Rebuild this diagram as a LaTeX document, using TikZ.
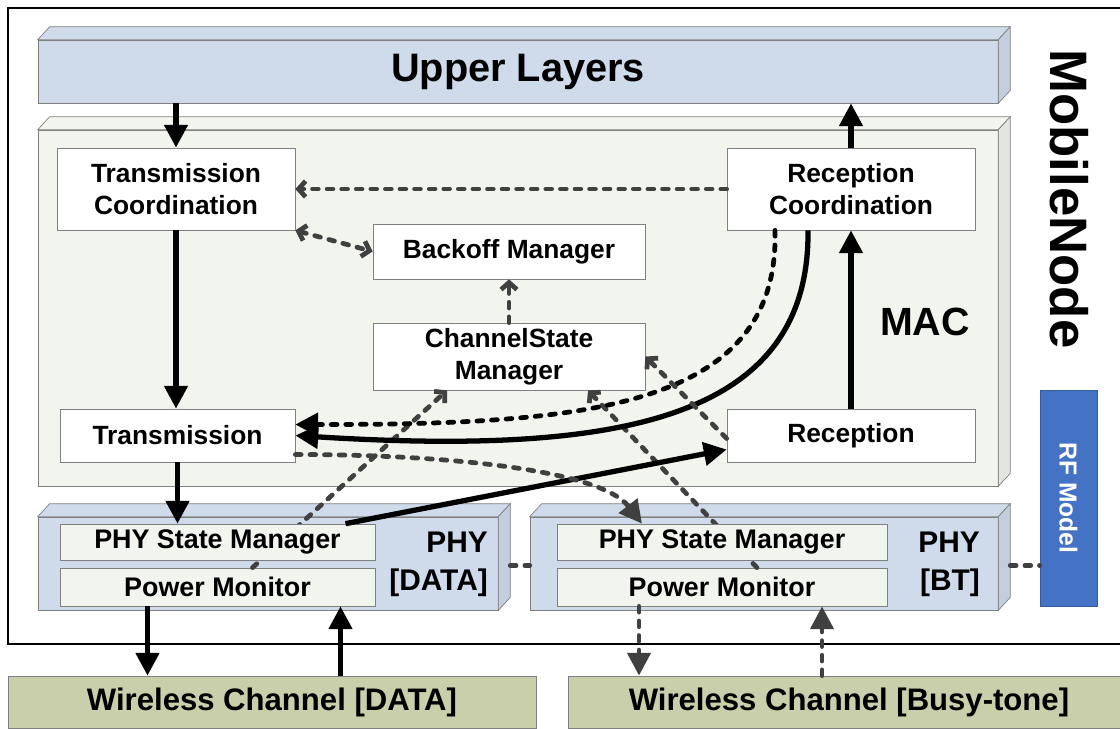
\documentclass[tikz,border=0pt]{standalone}
\usepackage{fontspec}
\setmainfont{Liberation Sans}
\usetikzlibrary{arrows.meta,calc,positioning}
\definecolor{layerblue}{HTML}{CFDAEB}
\definecolor{macgray}{HTML}{F2F4EE}
\definecolor{edgegray}{HTML}{808080}
\definecolor{linkgray}{HTML}{404040}
\definecolor{chanolive}{HTML}{C9CFAA}
\definecolor{rfblue}{HTML}{4472C4}

\begin{document}
\begin{tikzpicture}
[x=0.02cm,y=-0.02cm,
  layerDecorate/.style={draw=edgegray,fill=layerblue,inner sep=0pt},
  moduleDecorate/.style={draw=edgegray,fill=white,inner sep=0pt,align=center,
    font=\fontsize{15}{18}\selectfont\bfseries},
  subDecorate/.style={draw=edgegray,fill=macgray,inner sep=0pt,
    font=\fontsize{15.3}{18}\selectfont\bfseries},
  chanDecorate/.style={draw=edgegray,fill=chanolive,inner sep=0pt,
    font=\fontsize{17.7}{21}\selectfont\bfseries},
  solidArrow/.style={-{Triangle[length=13pt,width=13pt]},line width=3pt},
  dashLink/.style={line width=2.7pt,linkgray,line cap=round,dash pattern=on 3.3pt off 5pt},
  dashArrow/.style={dashLink,-{Straight Barb[length=4pt,width=9pt]}},
  dashBoth/.style={dashLink,{Straight Barb[length=4pt,width=9pt]}-{Straight Barb[length=4pt,width=9pt]}},
  dashTriArrow/.style={dashLink,-{Triangle[length=13pt,width=13pt]}}]
\useasboundingbox (0,0) rectangle (1120,728);
\clip (0,0) rectangle (1120,728);
%% node frame
\draw[line width=1.2pt] (8,8) rectangle (1135,644);
%% layers
\node (upper) [layerDecorate,minimum width=19.2cm,minimum height=1.26cm,
  font=\fontsize{22.6}{26}\selectfont\bfseries] at (518,71.5) {Upper Layers};
\node (mac) [layerDecorate,fill=macgray,minimum width=19.2cm,minimum height=7.12cm] at (518,308) {};
\node (phydata) [layerDecorate,minimum width=9.2cm,minimum height=1.86cm] at (268,563.5) {};
\node (phybt) [layerDecorate,minimum width=9.36cm,minimum height=1.86cm] at (764,563.5) {};
\foreach \layer/\colr in {upper/layerblue, mac/macgray, phydata/layerblue, phybt/layerblue}
{
  \filldraw[draw=edgegray,fill=\colr] (\layer.north west) -- ++(12,-13)
    -- ($(\layer.north east)+(12,-13)$) -- (\layer.north east) -- cycle;
  \filldraw[draw=edgegray,fill=\colr!94!black] (\layer.north east) -- ++(12,-13)
    -- ($(\layer.south east)+(12,-13)$) -- (\layer.south east) -- cycle;
}
%% channels
\node (wdata) [chanDecorate,minimum width=10.56cm,minimum height=1.04cm] at (272,702) {Wireless Channel [DATA]};
\node (wbt) [chanDecorate,minimum width=11.24cm,minimum height=1.04cm] at (849,702) {Wireless Channel [Busy-tone]};
%% MAC modules
\foreach \nodename/\x/\y/\w/\h/\txt in {
  tcoord/176/189/238/82/{Transmission\\Coordination},
  rcoord/851/189/248/82/{Reception\\Coordination},
  backoff/509/251.5/272/55/{Backoff Manager},
  chstate/509/356.5/272/67/{ChannelState\\Manager},
  trans/177.5/435.5/235/53/{Transmission},
  recep/851/435.5/248/53/{Reception}}
{
  \node (\nodename) [moduleDecorate,minimum width=\w*0.02cm,minimum height=\h*0.02cm] at (\x,\y) {\txt};
}
%% power monitors and their links behind the state managers
\foreach \nodename/\x/\w in {pmdata/217.5/315, pmbt/722/330}
{
  \node (\nodename) [subDecorate,minimum width=\w*0.02cm,minimum height=0.76cm] at (\x,587) {Power Monitor};
}
\draw[dashArrow] ($(pmdata.north)+(35,0)$) -- ($(chstate.south)+(-62,0)$);
\draw[dashArrow] ($(pmbt.north)+(35,0)$) -- ($(chstate.south)+(79,0)$);
\foreach \nodename/\x/\w in {psmdata/217.5/315, psmbt/722/330}
{
  \node (\nodename) [subDecorate,minimum width=\w*0.02cm,minimum height=0.72cm] at (\x,542) {PHY State Manager};
}
%% labels
\node [font=\fontsize{22.4}{26}\selectfont\bfseries] at (925,322) {MAC};
\node [font=\fontsize{17}{21.6}\selectfont\bfseries,align=right,anchor=east] at (494,564) {PHY\\{[DATA]}};
\node [font=\fontsize{17}{21.6}\selectfont\bfseries,align=right,anchor=east] at (986,564) {PHY\\{[BT]}};
\node [rotate=-90,font=\fontsize{30}{34}\selectfont\bfseries] at (1069,199) {MobileNode};
\node (rfmodel) [rotate=-90,draw=rfblue!80!black,fill=rfblue,text=white,inner sep=0pt,
  minimum width=4.32cm,minimum height=1.14cm,font=\fontsize{14}{16}\selectfont\bfseries] at (1068.5,498) {RF Model};
%% solid links
\draw[solidArrow] (tcoord.north |- upper.south) -- (tcoord.north);
\draw[solidArrow] (rcoord.north) -- (rcoord.north |- upper.south);
\draw[solidArrow] (tcoord.south) -- (tcoord.south |- trans.north);
\draw[solidArrow] (recep.north) -- (rcoord.south);
\draw[solidArrow] (trans.south) -- (trans.south |- psmdata.north);
\draw[solidArrow] ($(pmdata.south)+(-70,0)$) coordinate (pmout) -- (pmout |- wdata.north);
\coordinate (pmin) at ($(pmdata.south)+(123,0)$);
\draw[solidArrow] (pmin |- wdata.north) -- (pmin);
\draw[solidArrow] ($(psmdata.north)+(128,0)$) -- ($(recep.west)+(0,14)$);
\draw[solidArrow] ($(rcoord.south)+(-43,0)$) .. controls +(2,190) and +(323,20) .. (trans.east);
%% dashed links
\draw[dashTriArrow,black] ($(rcoord.south)+(-76,0)$) .. controls +(5,180) and +(285,0) .. ($(trans.east)+(0,-11)$);
\draw[dashTriArrow] ($(trans.east)+(0,19)$) .. controls +(150,0) and +(-42,-54) .. ($(psmbt.north)+(-80,0)$);
\draw[dashArrow] (rcoord.west) -- (tcoord.east);
\draw[dashBoth] (tcoord.south east) -- (backoff.west);
\draw[dashArrow] (chstate.north) -- (backoff.south);
\draw[dashArrow] ($(recep.west)+(0,3)$) -- (chstate.east);
\draw[dashTriArrow] ($(pmbt.south)+(-83,0)$) coordinate (btout) -- (btout |- wbt.north);
\coordinate (btin) at ($(pmbt.south)+(100,0)$);
\draw[dashTriArrow] (btin |- wbt.north) -- (btin);
\draw[dashLink] ($(phydata.east)+(12,2)$) coordinate (dataside) -- (dataside -| phybt.west);
\draw[dashLink] ($(phybt.east)+(12,2)$) coordinate (btside) -- (btside -| rfmodel.south);
\end{tikzpicture}
\end{document}
